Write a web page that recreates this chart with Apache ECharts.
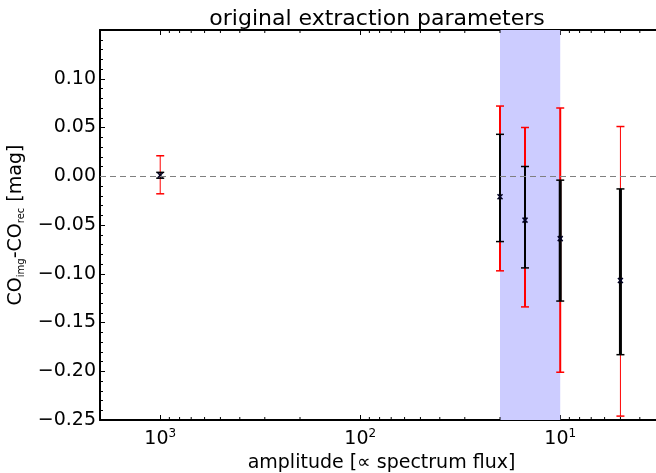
<!DOCTYPE html>
<html><head><meta charset="utf-8">
<script src="https://cdn.jsdelivr.net/npm/echarts@6/dist/echarts.min.js"></script>
<style>html,body{margin:0;padding:0;background:#fff}#c{width:656px;height:473px}</style>
</head><body><div id="c"></div>
<script>
// ---- data ----
const amplitude = [1000, 20, 15, 10, 5];
const value     = [0.001, -0.021, -0.045, -0.064, -0.107];
const innerLow  = [-0.002, -0.067, -0.094, -0.128, -0.183];
const innerHigh = [0.004, 0.043, 0.010, -0.004, -0.013];
const outerLow  = [-0.018, -0.097, -0.134, -0.201, -0.246];
const outerHigh = [0.021, 0.072, 0.050, 0.070, 0.051];
const regionRange = [20, 10];
const xMajorTicks = [1000, 100, 10];
const yRange = [-0.25, 0.15];
const xRange = [3.32, 2000];

// ---- styles (not data) ----
const redWidth = [1, 2, 2, 2, 1];
const blackWidth = [1, 2, 2, 3, 3];
const FONT = 'DejaVu Sans';

// minor log tick positions (axis decoration)
const minorTicks = [];
for (let k = 0; k <= 3; k++) for (let m = 2; m <= 9; m++) {
  const v = m * Math.pow(10, k);
  if (v > xRange[0] && v < xRange[1]) minorTicks.push(v);
}

const chart = echarts.init(document.getElementById('c'), null, {renderer: 'canvas'});

const barData = amplitude.map((a, i) => [a, value[i], innerLow[i], innerHigh[i], outerLow[i], outerHigh[i], i]);

function renderBar(params, api) {
  const x = api.value(0), i = api.value(6);
  const p = api.coord([x, api.value(1)]);
  const iL = api.coord([x, api.value(2)]), iH = api.coord([x, api.value(3)]);
  const oL = api.coord([x, api.value(4)]), oH = api.coord([x, api.value(5)]);
  const cx = p[0], cap = 4, ms = 2.5;
  const red = {stroke: '#ff0000', lineWidth: redWidth[i]};
  const blk = {stroke: '#000000', lineWidth: blackWidth[i]};
  const capR = {stroke: '#ff0000', lineWidth: 1.5};
  const capB = {stroke: '#000000', lineWidth: 1.5};
  return {type: 'group', children: [
    {type: 'line', shape: {x1: cx, y1: oL[1], x2: cx, y2: oH[1]}, style: red},
    {type: 'line', shape: {x1: cx - cap, y1: oL[1], x2: cx + cap, y2: oL[1]}, style: capR},
    {type: 'line', shape: {x1: cx - cap, y1: oH[1], x2: cx + cap, y2: oH[1]}, style: capR},
    {type: 'line', shape: {x1: cx, y1: iL[1], x2: cx, y2: iH[1]}, style: blk},
    {type: 'line', shape: {x1: cx - cap, y1: iL[1], x2: cx + cap, y2: iL[1]}, style: capB},
    {type: 'line', shape: {x1: cx - cap, y1: iH[1], x2: cx + cap, y2: iH[1]}, style: capB},
    {type: 'line', shape: {x1: cx - ms, y1: p[1] - ms, x2: cx + ms, y2: p[1] + ms}, style: {stroke: '#000022', lineWidth: 1.5}},
    {type: 'line', shape: {x1: cx - ms, y1: p[1] + ms, x2: cx + ms, y2: p[1] - ms}, style: {stroke: '#000022', lineWidth: 1.5}}
  ]};
}

function renderMinor(params, api) {
  const cs = params.coordSys;
  const x = api.coord([api.value(0), 0])[0];
  const top = cs.y, bot = cs.y + cs.height;
  const st = {stroke: '#000', lineWidth: 1};
  return {type: 'group', children: [
    {type: 'line', shape: {x1: x, y1: bot, x2: x, y2: bot - 3}, style: st},
    {type: 'line', shape: {x1: x, y1: top, x2: x, y2: top + 3}, style: st}
  ]};
}

function xLabel(v) {
  const e = Math.log10(v);
  const r = Math.round(e);
  if (Math.abs(e - r) < 1e-6 && xMajorTicks.indexOf(Math.pow(10, r)) >= 0) return '{b|10}{s|' + r + '}';
  return '';
}
function yLabel(v) {
  if (Math.abs(v - yRange[1]) < 1e-9) return '';
  if (Math.abs(v) < 1e-9) return '0.00';
  return (v < 0 ? '\u2212' : '') + Math.abs(v).toFixed(2);
}

const xCommon = {
  type: 'log', logBase: 10, min: xRange[0], max: xRange[1], inverse: true,
  axisLine: {show: true, onZero: false, lineStyle: {color: '#000', width: 2}},
  axisTick: {show: true, inside: true, length: 5, lineStyle: {color: '#000', width: 1}},
  splitLine: {show: false}, minorTick: {show: false}
};

chart.setOption({
  animation: false,
  backgroundColor: '#fff',
  title: {
    text: 'original extraction parameters', left: 372, top: 3, textAlign: 'center',
    textStyle: {fontFamily: FONT, fontSize: 22, fontWeight: 'normal', color: '#000'}
  },
  grid: {left: 100, top: 30, right: 0, bottom: 53, containLabel: false, outerBoundsMode: 'none'},
  xAxis: [
    Object.assign({}, xCommon, {
      position: 'bottom',
      name: 'amplitude [\u221d spectrum flux]', nameLocation: 'middle', nameGap: 28,
      nameTextStyle: {fontFamily: FONT, fontSize: 19, color: '#000', padding: [0, 0, 0, 7]},
      axisLabel: {
        show: true, margin: 8, formatter: xLabel, showMinLabel: false, showMaxLabel: false,
        rich: {
          b: {fontFamily: FONT, fontSize: 19, color: '#000', lineHeight: 22},
          s: {fontFamily: FONT, fontSize: 12, color: '#000', verticalAlign: 'top', lineHeight: 12}
        }
      }
    }),
    Object.assign({}, xCommon, {position: 'top', axisLabel: {show: false}})
  ],
  yAxis: {
    type: 'value', min: yRange[0], max: yRange[1], interval: 0.05,
    name: '{m|CO}{s|img}{m|-CO}{s|rec}{m| [mag]}',
    nameLocation: 'middle', nameGap: 60, nameRotate: 90,
    nameTextStyle: {
      rich: {
        m: {fontFamily: FONT, fontSize: 19, color: '#000', lineHeight: 22},
        s: {fontFamily: FONT, fontSize: 10, color: '#000', verticalAlign: 'bottom', lineHeight: 10}
      }
    },
    axisLine: {show: true, onZero: false, lineStyle: {color: '#000', width: 2}},
    axisTick: {show: true, inside: true, length: 5, lineStyle: {color: '#000', width: 1}},
    minorTick: {show: true, splitNumber: 5, length: 3, lineStyle: {color: '#000', width: 1}},
    splitLine: {show: false}, minorSplitLine: {show: false},
    axisLabel: {fontFamily: FONT, fontSize: 19, color: '#000', margin: 4, formatter: yLabel}
  },
  series: [
    {
      type: 'line', data: [], z: 1, silent: true,
      markArea: {silent: true, itemStyle: {color: '#ccccff', opacity: 1},
        data: [[{xAxis: regionRange[0]}, {xAxis: regionRange[1]}]]},
      markLine: {silent: true, symbol: 'none', label: {show: false},
        lineStyle: {color: '#808080', type: [6, 4], width: 1.2},
        data: [{yAxis: 0}]}
    },
    {type: 'custom', data: minorTicks.map(v => [v, 0]), renderItem: renderMinor, z: 5, silent: true, clip: false},
    {type: 'custom', data: barData, renderItem: renderBar, z: 3, silent: true, encode: {x: 0, y: 1}}
  ]
});
</script>
</body></html>
